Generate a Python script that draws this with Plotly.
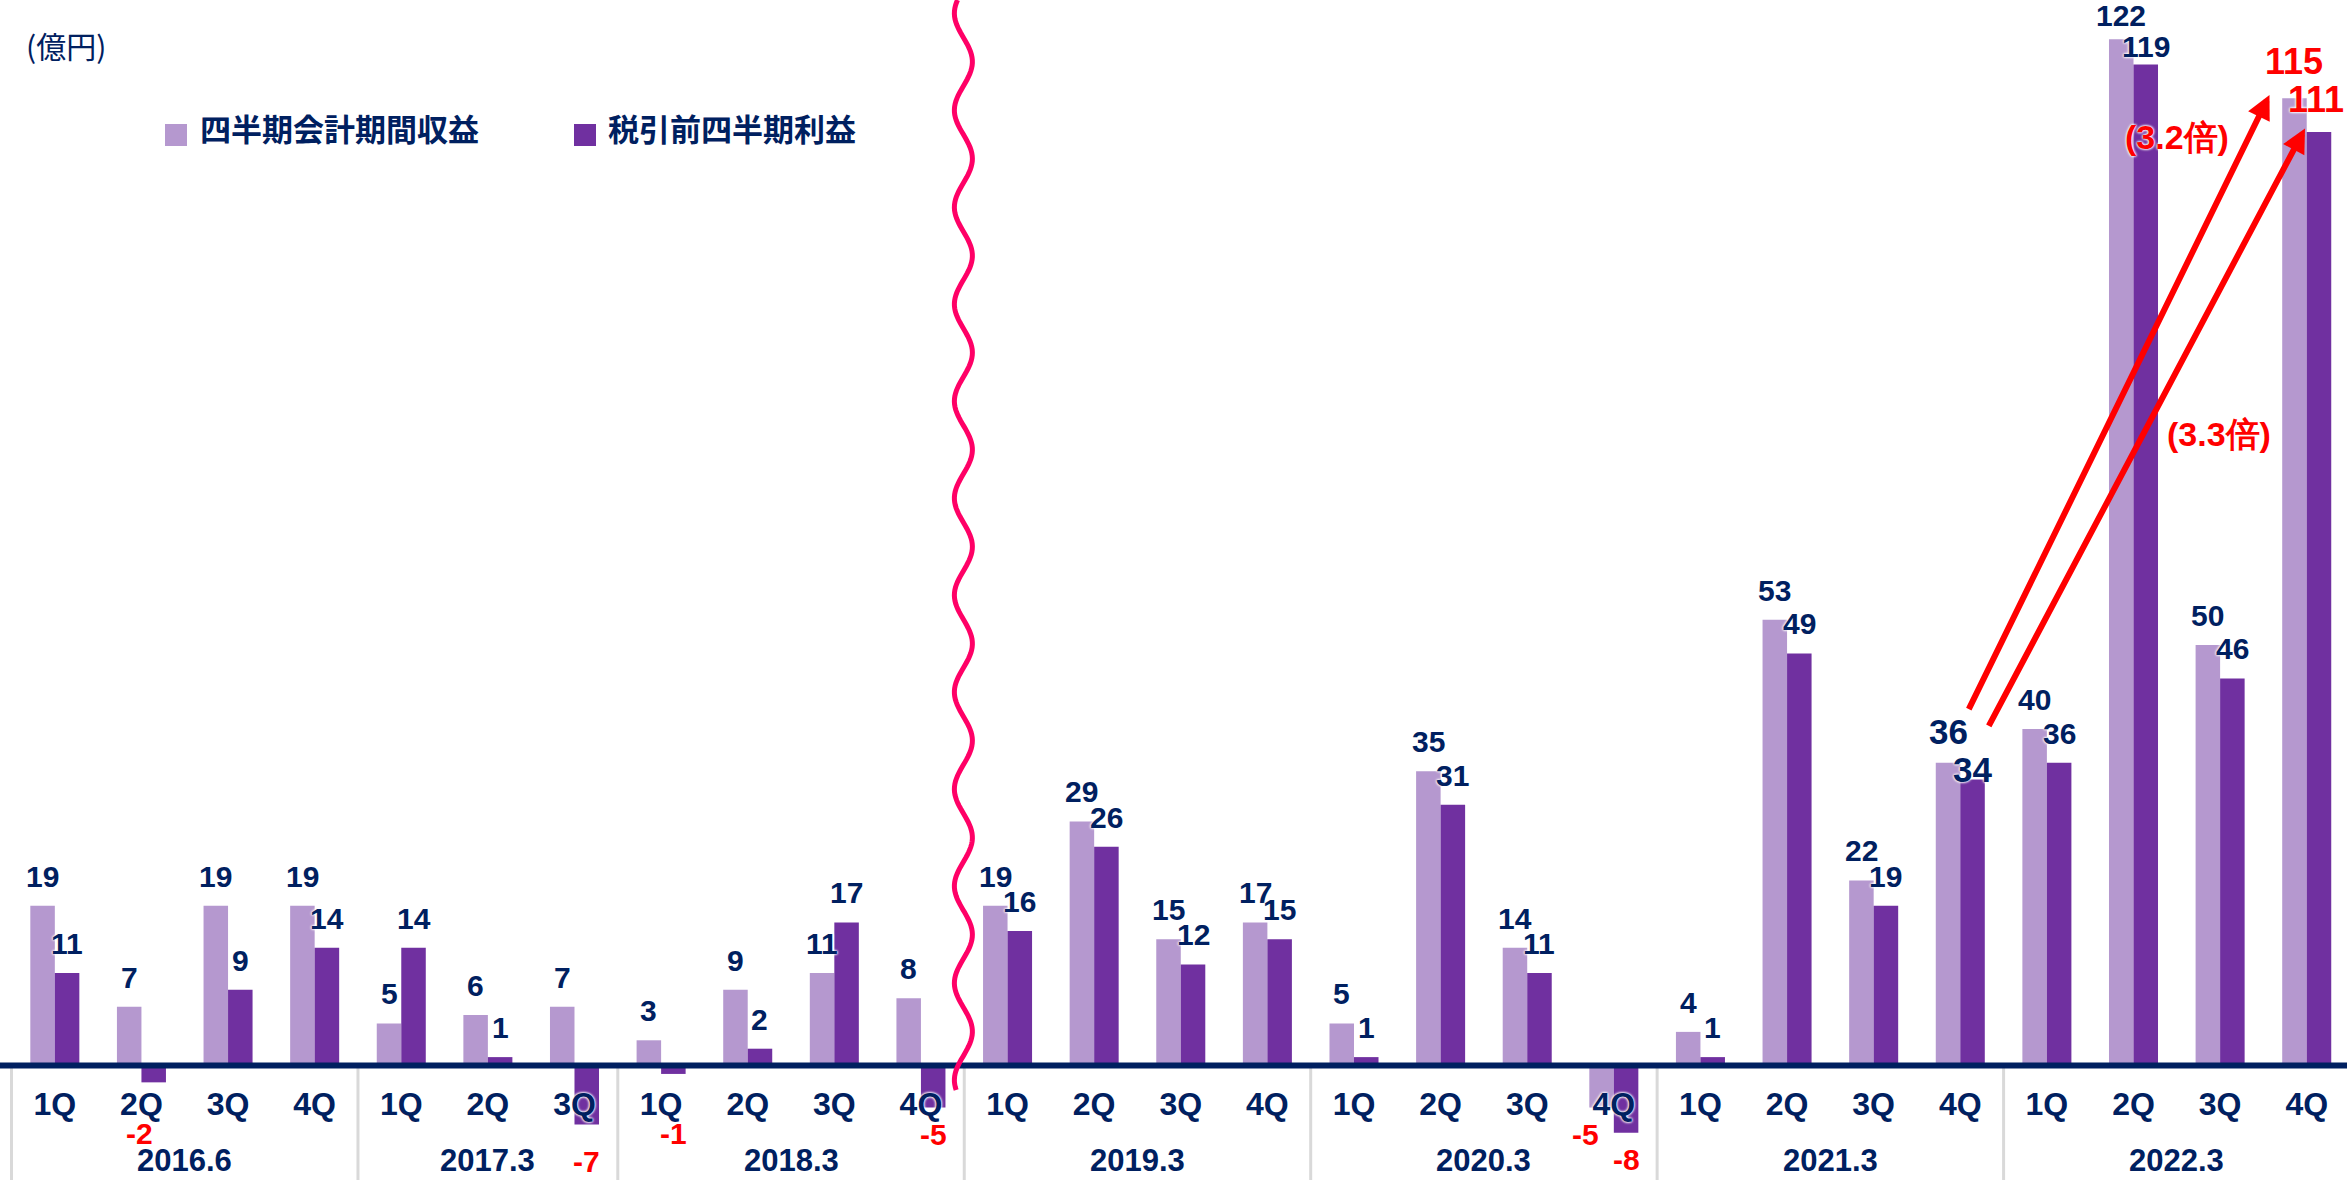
import numpy as np
import plotly.graph_objects as go

# ---- data -------------------------------------------------------------
years = ['2016.6', '2017.3', '2018.3', '2019.3', '2020.3', '2021.3', '2022.3']
year_quarters = [
    ['1Q', '2Q', '3Q', '4Q'],
    ['1Q', '2Q', '3Q'],
    ['1Q', '2Q', '3Q', '4Q'],
    ['1Q', '2Q', '3Q', '4Q'],
    ['1Q', '2Q', '3Q', '4Q'],
    ['1Q', '2Q', '3Q', '4Q'],
    ['1Q', '2Q', '3Q', '4Q'],
]
revenue = [19, 7, 19, 19, 5, 6, 7, 3, 9, 11, 8, 19, 29, 15, 17,
           5, 35, 14, -5, 4, 53, 22, 36, 40, 122, 50, 115]
pretax = [11, -2, 9, 14, 14, 1, -7, -1, 2, 17, -5, 16, 26, 12, 15,
          1, 31, 11, -8, 1, 49, 19, 34, 36, 119, 46, 111]
series_names = ['四半期会計期間収益', '税引前四半期利益']
unit_label = '(億円)'
ratio_labels = ['(3.2倍)', '(3.3倍)']

categories = [f'{y} {q}' for y, qs in zip(years, year_quarters) for q in qs]
quarter_text = [q for qs in year_quarters for q in qs]

# ---- style ------------------------------------------------------------
W, H = 2347, 1180
LIGHT = '#B598CF'
DARK = '#7030A0'
NAVY = '#002060'
RED = '#FF0000'
WAVE = '#FF0066'
GRID = '#D9D9D9'
NUM_FONT = 'Arial, Liberation Sans, sans-serif'
JP_FONT = 'Noto Sans CJK JP, sans-serif'
HALO = '0px 0px 3px white, 0px 0px 3px white, 0px 0px 2px white'

X_RANGE = [-0.633, 26.465]
Y_RANGE = [-13.61, 126.68]
BAR_W = 0.283  # width of one bar in category units

fig = go.Figure()
for name, vals, col in [(series_names[0], revenue, LIGHT), (series_names[1], pretax, DARK)]:
    fig.add_trace(go.Bar(
        x=categories, y=vals, name=name,
        marker=dict(color=col, line=dict(width=0)),
        showlegend=False,
    ))

annotations = []
shapes = []

# data labels
last_cat = categories[-1]
big = {categories[-5]: 35, last_cat: 36}
nudges = {  # (category, series) -> (dx px, dy px)
    (categories[1], 1): (-14, 0),
    (categories[6], 1): (0, -10),
    (categories[18], 0): (-16, 0),
    (categories[22], 1): (0, -22),
    (categories[24], 0): (0, -6),
    (categories[24], 1): (0, -12),
    (last_cat, 0): (0, 4),
    (last_cat, 1): (-3, 0),
}
for s, vals in enumerate([revenue, pretax]):
    off = -BAR_W / 2 if s == 0 else BAR_W / 2
    for i, (cat, v) in enumerate(zip(categories, vals)):
        fs = big.get(cat, 30)
        col = RED if (v < 0 or cat == last_cat) else NAVY
        dx, dy = nudges.get((cat, s), (0, 0))
        if v >= 0:
            y, ya, ys = v, 'bottom', 19.5 - (0.212 * fs + 2)
        else:
            y, ya, ys = min(v, -4.85), 'top', -(16 - (0.189 * fs + 2))
        annotations.append(dict(
            x=i + off, y=y, xref='x', yref='y', text=str(v), showarrow=False,
            xanchor='center', yanchor=ya, xshift=dx, yshift=ys + dy,
            font=dict(family=NUM_FONT, size=fs, color=col, weight='bold', shadow=HALO),
        ))

# year labels + dividers
start = 0
for y, qs in zip(years, year_quarters):
    n = len(qs)
    annotations.append(dict(
        x=start + (n - 1) / 2, y=-11.35, xref='x', yref='y', text=y, showarrow=False,
        yanchor='middle', font=dict(family=NUM_FONT, size=31, color=NAVY, weight='bold'),
    ))
    shapes.append(dict(type='line', xref='x', yref='y', x0=start - 0.5, x1=start - 0.5,
                       y0=0, y1=Y_RANGE[0], line=dict(color=GRID, width=3), layer='below'))
    start += n

# axis line at zero
shapes.append(dict(type='line', xref='paper', yref='y', x0=0, x1=1, y0=0, y1=0,
                   line=dict(color=NAVY, width=6), layer='above'))

# wavy break marker between 2018.3 and 2019.3
wave_y = np.linspace(Y_RANGE[1], -2.9, 400)
wave_x = 10.49 - 0.104 * np.cos(2 * np.pi * (wave_y - 125.1) / 11.53)
path = 'M' + ' L'.join(f'{a:.4f},{b:.3f}' for a, b in zip(wave_x, wave_y))
shapes.append(dict(type='path', xref='x', yref='y', path=path,
                   line=dict(color=WAVE, width=5)))

# growth arrows from 2021.3 4Q to 2022.3 4Q
i_from, i_to = 22, len(categories) - 1
for dx_head, head_v, dx_tail, tail_v in [(-0.43, revenue[i_to], 0.09, revenue[i_from]),
                                         (-0.02, pretax[i_to], 0.32, pretax[i_from])]:
    annotations.append(dict(
        x=i_to + dx_head, y=head_v + 0.4, xref='x', yref='y',
        ax=i_from + dx_tail, ay=tail_v + 6.2, axref='x', ayref='y',
        text='', showarrow=True, arrowhead=2, arrowsize=0.8, arrowwidth=6,
        arrowcolor=RED, standoff=0, startstandoff=0,
    ))
for txt, xx, yy in [(ratio_labels[0], 24.50, 110.4), (ratio_labels[1], 24.99, 75.1)]:
    annotations.append(dict(
        x=xx, y=yy, xref='x', yref='y', text=txt, showarrow=False,
        font=dict(family=NUM_FONT, size=34, color=RED, weight='bold', shadow=HALO),
    ))

# unit + legend
annotations.append(dict(x=24 / W, y=1 - 45 / H, xref='paper', yref='paper', text=unit_label,
                        showarrow=False, xanchor='left', yanchor='middle',
                        font=dict(family=JP_FONT, size=30, color=NAVY)))
for (sx, tx), name, col in [((165, 198), series_names[0], LIGHT), ((574, 606), series_names[1], DARK)]:
    shapes.append(dict(type='rect', xref='paper', yref='paper',
                       x0=sx / W, x1=(sx + 22) / W, y0=1 - 146 / H, y1=1 - 124 / H,
                       fillcolor=col, line=dict(width=0)))
    annotations.append(dict(x=tx / W, y=1 - 128 / H, xref='paper', yref='paper', text=name,
                            showarrow=False, xanchor='left', yanchor='middle',
                            font=dict(family=JP_FONT, size=31, color=NAVY, weight='bold')))

fig.update_layout(
    width=W, height=H,
    margin=dict(l=0, r=0, t=0, b=0),
    barmode='group', bargap=1 - 2 * BAR_W, bargroupgap=0,
    plot_bgcolor='white', paper_bgcolor='white',
    xaxis=dict(
        type='category', categoryorder='array', categoryarray=categories,
        range=X_RANGE, anchor='free',
        position=(0 - Y_RANGE[0]) / (Y_RANGE[1] - Y_RANGE[0]),
        tickmode='array', tickvals=categories, ticktext=quarter_text,
        ticks='', showline=False, showgrid=False, zeroline=False,
        ticklabelstandoff=16,
        tickfont=dict(family=NUM_FONT, size=32, color=NAVY, weight='bold', shadow=HALO),
    ),
    yaxis=dict(range=Y_RANGE, visible=False, showgrid=False, zeroline=False),
    annotations=annotations,
    shapes=shapes,
)

# the page body has a default 8px margin; drop it so the figure fills the window
fig.write_html('out.html', config={'displayModeBar': False},
               post_script="document.body.style.margin='0';")
